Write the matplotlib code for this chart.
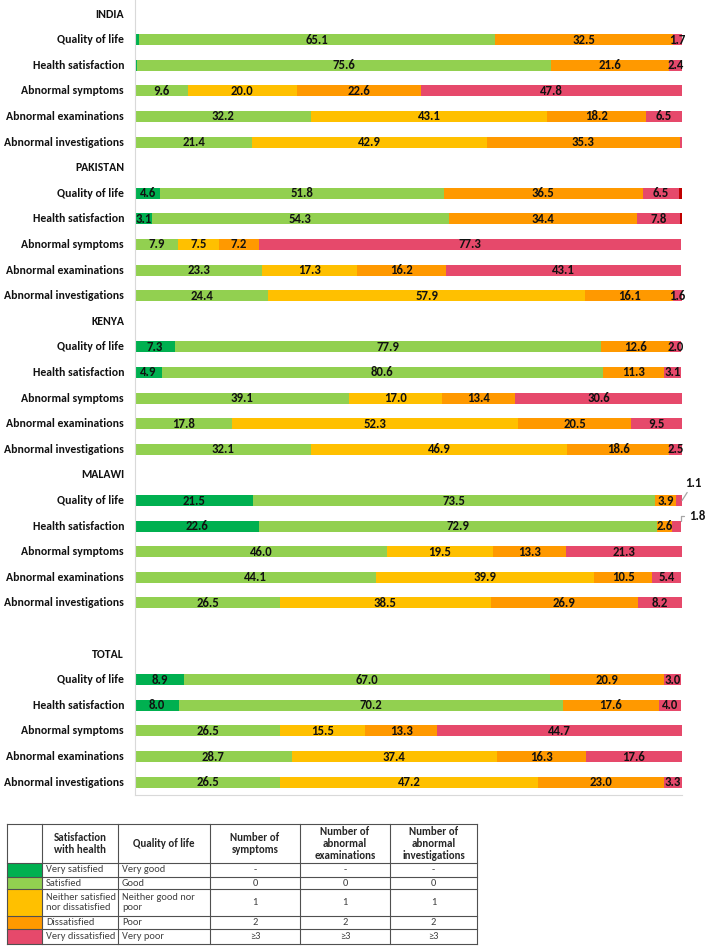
import matplotlib
matplotlib.use('Agg')
import matplotlib.pyplot as plt
from matplotlib import font_manager
from matplotlib.patches import Rectangle
import matplotlib.transforms as mtransforms

# ---------------- data ----------------
groups = ['INDIA', 'PAKISTAN', 'KENYA', 'MALAWI', 'TOTAL']
metrics = ['Quality of life', 'Health satisfaction', 'Abnormal symptoms',
           'Abnormal examinations', 'Abnormal investigations']
series_names = ['Very satisfied / Very good', 'Satisfied / Good / 0',
                'Neither / 1', 'Dissatisfied / Poor / 2',
                'Very dissatisfied / Very poor / >=3', 'Other']
series_colors = ['#00B050', '#92D050', '#FFC000', '#FF9900', '#E6496B', '#C00000']

# rows = metrics, columns = series
india = [[0.7, 65.1, 0.0, 32.5, 1.7, 0.0],
         [0.4, 75.6, 0.0, 21.6, 2.4, 0.0],
         [0.0, 9.6, 20.0, 22.6, 47.8, 0.0],
         [0.0, 32.2, 43.1, 18.2, 6.5, 0.0],
         [0.0, 21.4, 42.9, 35.3, 0.4, 0.0]]
pakistan = [[4.6, 51.8, 0.0, 36.5, 6.5, 0.6],
            [3.1, 54.3, 0.0, 34.4, 7.8, 0.4],
            [0.0, 7.9, 7.5, 7.2, 77.3, 0.0],
            [0.0, 23.3, 17.3, 16.2, 43.1, 0.0],
            [0.0, 24.4, 57.9, 16.1, 1.6, 0.0]]
kenya = [[7.3, 77.9, 0.0, 12.6, 2.0, 0.0],
         [4.9, 80.6, 0.0, 11.3, 3.1, 0.0],
         [0.0, 39.1, 17.0, 13.4, 30.6, 0.0],
         [0.0, 17.8, 52.3, 20.5, 9.5, 0.0],
         [0.0, 32.1, 46.9, 18.6, 2.5, 0.0]]
malawi = [[21.5, 73.5, 0.0, 3.9, 1.1, 0.0],
          [22.6, 72.9, 0.0, 2.6, 1.8, 0.0],
          [0.0, 46.0, 19.5, 13.3, 21.3, 0.0],
          [0.0, 44.1, 39.9, 10.5, 5.4, 0.0],
          [0.0, 26.5, 38.5, 26.9, 8.2, 0.0]]
total = [[8.9, 67.0, 0.0, 20.9, 3.0, 0.0],
         [8.0, 70.2, 0.0, 17.6, 4.0, 0.0],
         [0.0, 26.5, 15.5, 13.3, 44.7, 0.0],
         [0.0, 28.7, 37.4, 16.3, 17.6, 0.0],
         [0.0, 26.5, 47.2, 23.0, 3.3, 0.0]]
group_values = [india, pakistan, kenya, malawi, total]

# table (legend) content
tbl_header = ['', 'Satisfaction\nwith health', 'Quality of life', 'Number of\nsymptoms',
              'Number of\nabnormal\nexaminations', 'Number of\nabnormal\ninvestigations']
tbl_health = ['Very satisfied', 'Satisfied', 'Neither satisfied\nnor dissatisfied',
              'Dissatisfied', 'Very dissatisfied']
tbl_qol = ['Very good', 'Good', 'Neither good nor\npoor', 'Poor', 'Very poor']
tbl_symptoms = ['-', '0', '1', '2', '\u22653']
tbl_exams = ['-', '0', '1', '2', '\u22653']
tbl_invest = ['-', '0', '1', '2', '\u22653']

# ---------------- fonts ----------------
available = {f.name for f in font_manager.fontManager.ttflist}
main_font = None
for cand in ['Carlito', 'Lato', 'Liberation Sans Narrow', 'Liberation Sans']:
    if cand in available:
        main_font = cand
        break
fam = [main_font, 'DejaVu Sans'] if main_font else ['DejaVu Sans']
plt.rcParams['font.family'] = fam

W, H = 708, 951
fig = plt.figure(figsize=(W / 100, H / 100), dpi=100)
fig.patch.set_facecolor('white')

# ---------------- main chart ----------------
ax = fig.add_axes([135 / W, 1 - 795 / H, 547 / W, 795 / H])
row_pos = []
header_pos = []
p = 0
for gi, g in enumerate(groups):
    if g == 'TOTAL':
        p += 1  # blank row before total
    header_pos.append(p)
    row_pos.append([p + 1 + k for k in range(len(metrics))])
    p += 1 + len(metrics)

FS = 8.5
FS_BAR = 9.2
bar_h = 0.43
txt_c = '#111111'
label_kw = dict(ha='center', va='center', fontsize=FS_BAR, fontweight='bold', color=txt_c)
trans_lab = mtransforms.blended_transform_factory(ax.transAxes, ax.transData)
lead_c = '#a6a6a6'

for gi, g in enumerate(groups):
    ax.text(-0.02, header_pos[gi], g, transform=trans_lab, ha='right', va='center',
            fontsize=FS, fontweight='bold', color=txt_c)
    vals = group_values[gi]
    for mi, m in enumerate(metrics):
        y = row_pos[gi][mi]
        ax.text(-0.02, y, m, transform=trans_lab, ha='right', va='center',
                fontsize=FS, fontweight='bold', color=txt_c)
        left = 0.0
        for si in range(len(series_names)):
            v = vals[mi][si]
            if v <= 0:
                continue
            ax.barh(y, v, left=left, height=bar_h, color=series_colors[si], linewidth=0)
            cx = left + v / 2
            if si < 5 and v >= 1.0:
                if g == 'MALAWI' and si == 4 and mi == 0:
                    ax.annotate(f'{v:.1f}', xy=(left + v, y), xytext=(11, 12),
                                textcoords='offset pixels', ha='center', va='bottom',
                                fontsize=FS_BAR, fontweight='bold', color=txt_c,
                                arrowprops=dict(arrowstyle='-', color=lead_c, lw=0.9,
                                                relpos=(0.3, 0.0), shrinkA=1, shrinkB=0),
                                annotation_clip=False)
                elif g == 'MALAWI' and si == 4 and mi == 1:
                    ax.annotate(f'{v:.1f}', xy=(left + v - 0.15, y - bar_h / 2), xytext=(8, 5),
                                textcoords='offset pixels', ha='left', va='center',
                                fontsize=FS_BAR, fontweight='bold', color=txt_c,
                                arrowprops=dict(arrowstyle='-', color=lead_c, lw=0.9,
                                                relpos=(0.0, 0.5), shrinkA=1, shrinkB=0,
                                                connectionstyle='angle,angleA=180,angleB=90,rad=0'),
                                annotation_clip=False)
                else:
                    ax.text(cx, y, f'{v:.1f}', **label_kw)
            left += v

ax.set_xlim(0, 100)
ax.set_ylim(30.5, -0.547)
ax.set_xticks([])
ax.set_yticks([])
for s in ['top', 'right']:
    ax.spines[s].set_visible(False)
for s in ['left', 'bottom']:
    ax.spines[s].set_color('#d9d9d9')
    ax.spines[s].set_linewidth(0.8)
ax.set_facecolor('none')

# ---------------- legend table ----------------
tab = fig.add_axes([0, 0, 1, 1])
tab.set_xlim(0, W)
tab.set_ylim(H, 0)
tab.axis('off')
tab.set_facecolor('none')

col_x = [7, 42, 118, 210, 300, 390, 477]
row_y = [824, 863, 877, 889, 916, 929, 944]

for r in range(5):
    tab.add_patch(Rectangle((col_x[0], row_y[r + 1]), col_x[1] - col_x[0],
                            row_y[r + 2] - row_y[r + 1], facecolor=series_colors[r],
                            edgecolor='none'))
line_c = '#505050'
for yy in row_y:
    tab.plot([col_x[0], col_x[-1]], [yy, yy], color=line_c, lw=0.8)
for xx in col_x:
    tab.plot([xx, xx], [row_y[0], row_y[-1]], color=line_c, lw=0.8)

hy = (row_y[0] + row_y[1]) / 2
for ci in range(1, 6):
    cx = (col_x[ci] + col_x[ci + 1]) / 2
    tab.text(cx, hy, tbl_header[ci], ha='center', va='center', fontsize=7.8,
             fontweight='bold', color='#262626', linespacing=1.15)

body_cols = [tbl_health, tbl_qol, tbl_symptoms, tbl_exams, tbl_invest]
for r in range(5):
    cy = (row_y[r + 1] + row_y[r + 2]) / 2
    for ci, col in enumerate(body_cols):
        x0, x1 = col_x[ci + 1], col_x[ci + 2]
        if ci < 2:
            tab.text(x0 + 4, cy, col[r], ha='left', va='center', fontsize=7.5,
                     color='#404040', linespacing=1.15)
        else:
            tab.text((x0 + x1) / 2, cy, col[r], ha='center', va='center', fontsize=7.5,
                     color='#404040')

fig.savefig('out.png', dpi=100, facecolor='white')
